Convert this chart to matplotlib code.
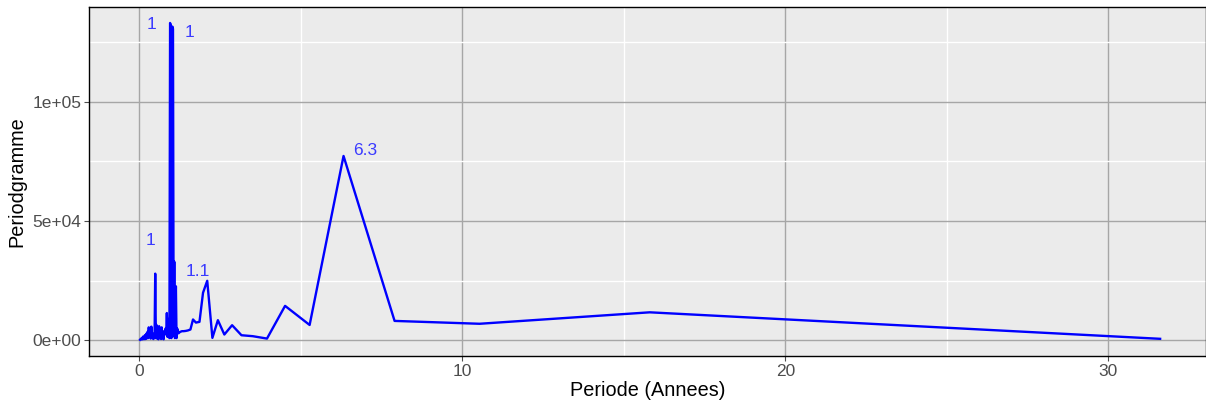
import matplotlib.pyplot as plt
from matplotlib.ticker import MultipleLocator, FuncFormatter

# period (years) and periodogram values (thousands)
periode = [0.02, 0.05, 0.08, 0.11, 0.14, 0.17, 0.19, 0.21, 0.23, 0.25, 0.27,
           0.29, 0.31, 0.33, 0.35, 0.37, 0.39, 0.41, 0.43, 0.45, 0.47, 0.49,
           0.51, 0.53, 0.55, 0.57, 0.59, 0.61, 0.63, 0.65, 0.67, 0.69, 0.71,
           0.73, 0.75, 0.77, 0.79, 0.81, 0.83, 0.85, 0.87, 0.89, 0.91, 0.93,
           0.95, 0.97, 0.99, 1.02, 1.04, 1.06, 1.08, 1.10, 1.13, 1.15, 1.17,
           1.21, 1.26, 1.32, 1.37, 1.43, 1.50, 1.58, 1.66, 1.75, 1.86, 1.97,
           2.10, 2.26, 2.43, 2.63, 2.87, 3.16, 3.51, 3.95, 4.51, 5.27, 6.32,
           7.90, 10.53, 15.80, 31.60]
valeur = [0.3, 0.8, 0.4, 1.6, 0.5, 2.2, 0.6, 2.8, 0.9, 3.6, 1.0,
          5.5, 2.0, 4.5, 0.8, 5.8, 1.2, 3.0, 0.6, 2.0, 1.0, 28.0,
          1.0, 6.5, 0.8, 2.5, 0.5, 6.0, 1.2, 3.0, 0.6, 5.5, 1.0,
          2.0, 0.5, 4.0, 2.5, 5.0, 3.0, 11.5, 1.5, 9.0, 2.0, 1.0,
          133.0, 132.0, 1.0, 131.5, 130.5, 2.0, 33.0, 1.0, 22.7, 1.0, 5.0,
          3.0, 3.6, 3.9, 3.9, 4.0, 4.2, 4.6, 8.8, 7.5, 7.8, 20.0,
          25.0, 1.1, 8.5, 2.5, 6.4, 2.2, 1.8, 0.8, 14.5, 6.5, 77.3,
          8.2, 7.0, 11.8, 0.7]

# annotations
label_txt = ["1", "1", "6.3", "1", "1.1"]
label_x = [0.36, 1.55, 7.0, 0.34, 1.8]
label_y = [132.5, 129.0, 79.5, 42.0, 29.0]

plt.rcParams['font.family'] = ['Liberation Sans', 'DejaVu Sans']
fig = plt.figure(figsize=(12.06, 4.07), dpi=100)
ax = fig.add_axes([89 / 1206, 51 / 407, 1117 / 1206, 349 / 407])

ax.set_facecolor('#ebebeb')
ax.plot(periode, [v * 1000 for v in valeur], color='blue', lw=1.7, zorder=3)
for t, x, y in zip(label_txt, label_x, label_y):
    ax.text(x, y * 1000, t, color='#3a3aff', fontsize=12.5, ha='center',
            va='center', zorder=4)

ax.set_xlim(-1.56, 33.02)
ax.set_ylim(-6500, 139700)
ax.xaxis.set_major_locator(MultipleLocator(10))
ax.xaxis.set_minor_locator(MultipleLocator(5))
ax.yaxis.set_major_locator(MultipleLocator(50000))
ax.yaxis.set_minor_locator(MultipleLocator(25000))
ax.yaxis.set_major_formatter(FuncFormatter(lambda v, p: f"{v:.0e}"))

ax.grid(which='major', color='#a6a6a6', lw=1.0, zorder=1)
ax.grid(which='minor', color='white', lw=1.0, zorder=0)
ax.set_axisbelow(True)
ax.tick_params(which='major', length=3.5, width=0.8, color='#4d4d4d',
               labelcolor='#4d4d4d', labelsize=12.5, pad=2)
ax.tick_params(which='minor', length=0)
for s in ax.spines.values():
    s.set_color('black')
    s.set_linewidth(1.0)

ax.set_xlabel('Periode (Annees)', fontsize=14.3, labelpad=2)
ax.set_ylabel('Periodgramme', fontsize=14.3, labelpad=4)

fig.savefig('out.png', dpi=100)
